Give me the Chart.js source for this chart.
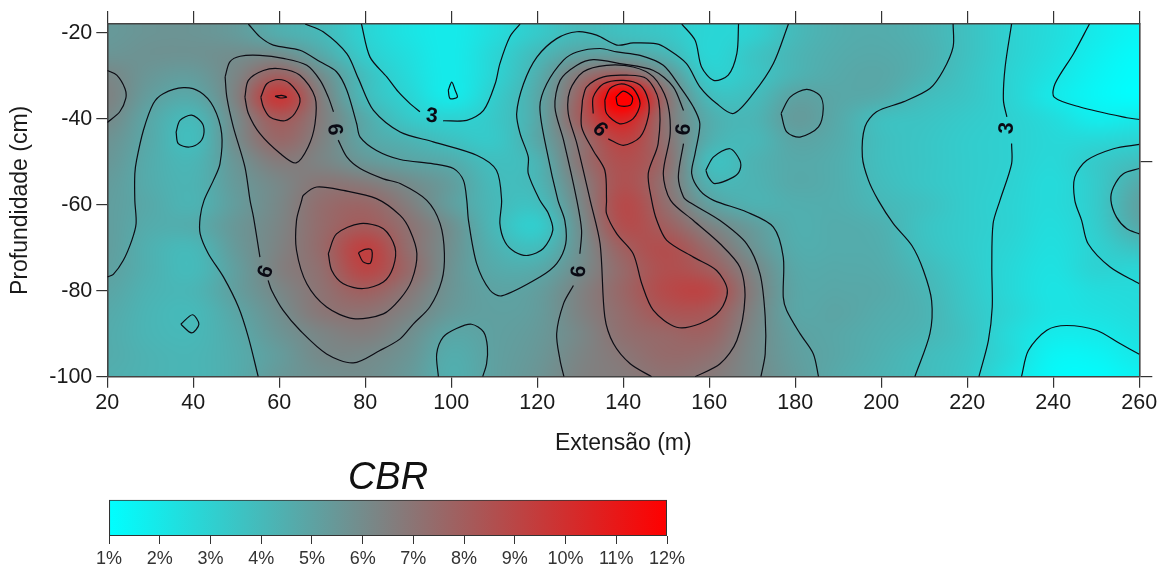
<!DOCTYPE html>
<html><head><meta charset="utf-8">
<style>html,body{margin:0;padding:0;background:#fff;overflow:hidden}
#wrap{position:relative;width:1166px;height:570px}
#wrap div{position:absolute;left:0;width:1166px}
#a{top:0;height:458px}#b{top:458px;height:112px}</style>
<script src="https://cdn.jsdelivr.net/npm/chart.js@4/dist/chart.umd.js"></script>
</head><body><div id="wrap"><div id="a"><canvas id="main"></canvas></div><div id="b"><canvas id="bar"></canvas></div></div>
<script>
const extensaoTicks=[20,40,60,80,100,120,140,160,180,200,220,240,260];
const profundidadeTicks=[-20,-40,-60,-80,-100];
const rightTicks=[-50,-100];
const legendTicks=[1,2,3,4,5,6,7,8,9,10,11,12];
const gridX=[20,30,40,50,60,70,80,90,100,110,120,130,140,150,160,170,180,190,200,210,220,230,240,250,260];
const gridY=[-20,-25,-30,-35,-40,-45,-50,-55,-60,-65,-70,-75,-80,-85,-90,-95,-100];
const cbr20=[5.4,5.6,5.6,5.3,4.5,4.0,2.9,2.2,1.9,2.5,3.3,4.0,3.7,3.4,2.8,3.0,4.0,4.5,4.6,4.3,3.7,3.0,2.5,1.9,1.4];
const cbr25=[5.6,5.7,5.7,5.9,5.9,4.7,3.2,2.4,1.9,2.8,4.0,5.0,5.0,4.2,2.8,3.5,4.2,4.6,4.7,4.4,3.7,3.0,2.4,1.7,1.2];
const cbr30=[6.2,5.5,5.3,6.3,7.8,5.9,3.8,2.6,1.9,2.9,4.5,6.9,8.0,5.8,3.2,3.5,4.3,4.7,4.8,4.3,3.6,2.9,2.2,1.5,1.1];
const cbr35=[6.4,5.2,4.8,6.5,9.6,6.5,4.0,2.9,1.95,3.2,4.8,7.9,12.6,7.2,4.0,3.9,5.0,4.8,4.6,3.9,3.5,2.9,2.0,1.4,1.1];
const cbr40=[6.1,4.8,4.1,6.1,8.1,6.6,4.7,3.4,2.95,3.4,4.8,8.0,10.6,7.0,4.6,4.2,5.3,4.7,3.8,3.6,3.3,3.0,2.5,1.8,2.0];
const cbr45=[5.7,4.7,3.9,6.0,7.5,6.4,4.9,4.3,3.7,3.4,4.8,7.1,9.2,7.1,4.5,4.1,4.9,4.6,3.8,3.5,3.2,3.0,2.7,2.7,2.9];
const cbr50=[5.5,4.6,4.2,5.6,6.7,6.3,5.5,5.0,4.6,3.8,4.3,7.0,8.6,7.3,3.9,4.3,4.7,4.5,3.8,3.5,3.2,3.0,2.7,3.3,3.8];
const cbr55=[5.3,4.6,4.3,5.4,6.2,6.9,6.7,6.0,5.2,4.0,4.2,6.5,8.5,7.0,4.4,4.3,4.7,4.5,3.9,3.5,3.2,2.95,2.6,3.3,4.6];
const cbr60=[5.2,4.7,4.3,5.3,6.2,7.3,7.6,6.6,5.2,4.1,3.8,6.2,8.8,7.3,5.2,4.4,4.5,4.5,4.1,3.7,3.2,2.9,2.6,3.3,5.0];
const cbr65=[5.2,4.6,4.6,5.5,6.3,7.4,8.1,7.1,5.8,4.1,3.2,5.9,8.6,7.9,6.4,5.3,4.5,4.6,4.4,3.6,3.2,2.9,2.5,3.2,4.7];
const cbr70=[5.2,4.4,4.1,5.4,6.4,7.5,9.2,7.3,5.8,4.4,3.9,5.8,7.9,8.6,7.3,5.7,4.6,4.6,4.5,3.7,3.2,2.8,2.4,3.0,3.7];
const cbr75=[5.1,4.4,4.0,5.2,6.5,7.3,9.0,7.5,5.7,4.7,4.7,6.0,7.5,8.6,8.0,6.3,4.8,4.7,4.6,4.0,3.3,2.7,2.3,2.9,2.8];
const cbr80=[4.9,4.3,4.2,5.2,6.2,7.1,7.9,6.9,5.6,5.0,5.2,6.4,7.6,8.8,8.9,6.6,4.9,4.8,4.7,4.2,3.4,2.7,2.2,2.5,2.6];
const cbr85=[4.7,4.2,4.05,4.9,5.9,6.9,7.1,6.4,5.4,5.1,5.3,6.4,7.4,8.3,8.2,6.4,4.9,4.9,4.6,4.3,3.5,2.8,2.2,2.3,2.5];
const cbr90=[4.6,4.2,4.1,4.7,5.6,6.3,6.6,5.9,4.9,5.1,5.4,6.2,7.2,7.6,7.7,6.2,5.1,4.8,4.5,4.2,3.6,2.6,1.9,1.95,2.3];
const cbr95=[4.6,4.3,4.2,4.6,5.3,6.1,6.1,5.6,4.6,5.1,5.5,6.3,6.9,7.4,7.2,6.1,5.2,4.8,4.4,3.95,3.5,2.6,1.5,1.5,2.0];
const cbr100=[4.5,4.3,4.2,4.6,5.4,5.8,5.9,5.4,4.5,5.1,5.6,6.4,6.7,7.1,6.8,6.1,5.3,4.7,4.3,3.9,3.4,2.3,1.3,1.2,1.6];
const cbrRows=[cbr20,cbr25,cbr30,cbr35,cbr40,cbr45,cbr50,cbr55,cbr60,cbr65,cbr70,cbr75,cbr80,cbr85,cbr90,cbr95,cbr100];

const scaleValues=[1,6.5,12];
const scaleColors=[[0,255,255],[128,128,128],[255,0,0]];

const leftLobe6=[[20,-28.8],[22.2,-29.9],[24.1,-33],[24.3,-35.3],[22.9,-38.4],[20,-40.9]];
const valley5=[[20,-76.8],[21.4,-76.2],[23.7,-73],[25.7,-68.3],[26.7,-64.4],[26.4,-59],[26.4,-52.8],[26.8,-49.7],[28.4,-42.7],[30.7,-36.5],[33,-34.2],[37.7,-32.8],[41.6,-33.8],[44.7,-37.3],[46.6,-43.5],[46.2,-50.5],[44.7,-54.3],[42.5,-59],[41.6,-62.9],[41.6,-66.8],[43.5,-71.4],[47,-76.8],[50.5,-83.8],[52.8,-90.8],[55.1,-100]];
const valley4a=[[36,-43.1],[36.9,-40.4],[39.6,-39.2],[41.9,-40.8],[42.5,-43.1],[41.6,-45.4],[39.1,-46.6],[36.5,-45.8],[36,-43.1]];
const valley4b=[[37.1,-87.8],[39.8,-85.6],[41.3,-87.8],[39.6,-89.8],[37.1,-87.8]];
const line3a=[[79.1,-18],[81.1,-25.7],[85,-30.3],[87.7,-33.8],[90.4,-36.5],[92.7,-38.4],null,[98.1,-40.5],[103.6,-40.4],[107.5,-38.1],[110.2,-31.9],[111.3,-27.2],[113.6,-21],[116,-18]];
const line4a=[[66,-18],[70.2,-19.8],[75.7,-24.9],[78.4,-30.7],[81.9,-38.1],[88.1,-43.1],[95.8,-45.4],[105.9,-48.5],[110.5,-52],[111.7,-59],[111.3,-64.4],[112.5,-68.7],[114.8,-71],[117.9,-71.8],[121.4,-70.2],[123.6,-66],[122.6,-62.1],[120.6,-59],[117.9,-52.8],[117.9,-48.9],[116,-43.5],[115.2,-38.8],[116.8,-31.9],[119.9,-25.7],[124.5,-21.4],[129.2,-19.8],[133.8,-20.6],[138.5,-22.9],[142.3,-22.4],[147.8,-22.6],[150.1,-23.7],[154.7,-27.2],[157.8,-32.6],[161.7,-36.5],[165.6,-38.8],[170.2,-34.2],[174.9,-27.2],[178.4,-18]];
const line5a=[[52.8,-18],[55.5,-21],[58.6,-22.9],[64.8,-24.1],[69.5,-26.8],[73.3,-29.1],[75.7,-33.4],[78,-41.2],[78.8,-44.3],[82.6,-47.4],[88.1,-49.5],[95.8,-50.5],[100.5,-51.6],[102.8,-54.3],[103.6,-59],[104,-63.7],[105.9,-73.7],[109,-79.9],[111.7,-81.2],[120.6,-76.8],[124.5,-73.7],[126.6,-69.1],[126.4,-63.7],[124.8,-59],[122.2,-47.4],[120.6,-37.3],[122.2,-31.9],[126.1,-26.4],[129.2,-24.5],[134.6,-23.7],[138.5,-24.5],[143.9,-25.3],[149.3,-27.6],[153.2,-32.6],[156.3,-37.3],[157.8,-41.2],[156.7,-48.1],[155.9,-52.8],[157.8,-56.7],[161,-59],[168.7,-61.7],[174.9,-65.2],[177.2,-72.2],[177.2,-81.5],[178,-84.6],[181.1,-90],[184.2,-94.7],[185.4,-100]];
const line6b=[[126.2,-100],[125.3,-96.2],[124.5,-90],[126.1,-83],[128.4,-78.8],null,[129.9,-71.4],[130.3,-66],[129.2,-59],[126.1,-45],[124.1,-37.3],[125.3,-31.1],[129.2,-27.6],[133,-26.3],[139.2,-27.2],[147,-28.8],[151.6,-32.6],[154,-38.1],null,[154,-45.8],[152.8,-53.6],[154,-58.2],[155.5,-59.5],[162.5,-63.7],[168.7,-69.1],[171.8,-76.1],[173,-86.1],[173,-94.7],[172,-100]];
const line6a=[[47.4,-30.3],[48.5,-26.8],[50.9,-25.5],[55.5,-25.3],[60.9,-26],[66.4,-27.6],[69.5,-31.1],[71.4,-35],[72.6,-38.4],null,[73.7,-45],[75.7,-48.9],[78.8,-51.6],[84.2,-54],[88.1,-55.1],[94.3,-59],[97.4,-64.4],[98.4,-71.4],[97.8,-77.6],[95,-83.8],[91.2,-87.7],[88.1,-91.2],[83.4,-93.9],[77.2,-96.8],[71,-94.7],[64.8,-89.2],[60.9,-84.6],[58.2,-79.9],[57.4,-77.6],null,[55.5,-72.2],[54,-62.9],[53.2,-59],[52,-51.2],[49.3,-41.9],[47.8,-35],[47.4,-30.3]];
const peak60l7=[[52,-35],[52.8,-31.1],[56.3,-28.8],[60.2,-28.4],[64.8,-29.9],[68.3,-35],[68.3,-41.2],[66.7,-46.6],[63.9,-50.3],[60.2,-48.1],[55.5,-43.5],[52.8,-38.8],[52,-35]];
const peak60l8=[[55.7,-35],[57.1,-31.9],[59.8,-30.9],[62.5,-31.9],[64.8,-35.3],[63.6,-38.8],[61.3,-40.5],[57.8,-39.6],[56.3,-37.3],[55.7,-35]];
const peak60l9=[[59,-34.8],[60.5,-34.6],[61.7,-35],[60.2,-35.2],[59,-34.8]];
const peak80l7=[[65.2,-59],[64,-63.7],[64,-70.6],[66.4,-78.4],[71,-83.8],[77.2,-86.5],[84.2,-85.4],[88.1,-81.9],[90.8,-77.6],[92,-71.4],[90.4,-66],[88.1,-62.5],[82.6,-58.6],[74.9,-56.7],[68.7,-55.9],[65.6,-57.8],[65.2,-59]];
const peak80l8=[[71.4,-71.4],[73.3,-66.8],[78.8,-64.4],[84.2,-65.6],[86.9,-69.9],[86.5,-74.5],[84.2,-78],[79.5,-79.5],[74.9,-78.4],[72.2,-75.3],[71.4,-71.4]];
const peak80l9=[[78.4,-71.2],[79.9,-70.4],[81.5,-70.6],[81.2,-73.6],[79.5,-73.3],[78.4,-71.2]];
const blobL7=[[146.6,-100],[141.6,-97],[137.7,-92.3],[135.7,-86.1],[134.6,-69.1],[132.3,-59],[129.2,-45.8],[127.2,-38.8],[127.6,-33.4],[130.7,-29.1],[136.1,-27.6],[142.3,-28],[147,-30.3],[150.1,-35.7],[150.9,-43.5],[149.3,-52.8],[151,-59],[156.3,-63.7],[162.5,-69.1],[167.1,-74.5],[168.3,-81.5],[166.4,-91.6],[162.5,-97],[156.7,-100]];
const blobL8=[[130.5,-35.7],[130.3,-41.9],[133,-47.4],[135.7,-52],[136.1,-59],[136.1,-62.1],[138.5,-66.8],[142.3,-71.4],[144.3,-78.4],[147,-84.6],[152.4,-88.5],[157.8,-87.7],[162.5,-84.6],[164.2,-79.9],[161.7,-75.3],[156.3,-72.2],[150.1,-68.3],[147.8,-63.7],[146.6,-59],[145.8,-52.8],[148.1,-45.8],[148.2,-35.7],[145.4,-30.7],[140.8,-29.9],[135.4,-30.3],[131.5,-32.6],[130.5,-35.7]];
const blobL9=[[136.5,-44.7],[140,-46.2],[143.9,-44.3],[145.8,-39.6],[145.8,-35.7],[143.9,-32.2],[140,-31.1],[135.4,-31.9],[133,-35],[133,-38.8]];
const blobL10=[[135.7,-35.7],[136.1,-38.8],[139.2,-41.2],[142.3,-40],[143.9,-36.5],[142.3,-33],[139.6,-31.9],[136.9,-33],[135.7,-35.7]];
const blobL11=[[138.3,-35],[138.8,-36.9],[141.6,-36.9],[142.1,-35],[140,-33.6],[138.3,-35]];
const topLoop3=[[153.6,-18],[156.7,-21.8],[158.2,-28],[161,-31.1],[164.4,-29.9],[166.4,-24.9],[166.8,-18]];
const loop4c=[[159.2,-52],[161,-48.9],[164.8,-47],[167.1,-49.7],[167.1,-52],[165.6,-53.6],[161.3,-55.1],[159.8,-53.6],[159.2,-52]];
const loop2a=[[99.3,-33.4],[100.1,-31.5],[100.9,-33.4],[101.4,-35],[99.7,-35.3],[99.3,-33.4]];
const bottomLoop5=[[97,-100],[96.6,-94.7],[98.1,-90.8],[101.2,-88.8],[104.7,-87.8],[107.5,-89.6],[108.4,-93.1],[108.2,-97],[107.3,-100]];
const loop5b=[[176.7,-38.8],[178.8,-35],[182.6,-33.2],[185.7,-34.6],[186.5,-37.7],[185.4,-41.9],[181.1,-44.3],[178,-43.1],[176.7,-38.8]];
const line4b=[[216.7,-18],[216.7,-23.3],[214.4,-28.8],[211.3,-33],[205.1,-36.1],[198.9,-38.4],[196.2,-41.9],[195.6,-48.9],[197,-54.3],[199.3,-59],[202.8,-64.4],[207.1,-69.5],[209.8,-75.3],[211.7,-82.3],[211.3,-90],[207.8,-100]];
const line3b=[[230.3,-18],[228.8,-28],[228.4,-35.7],[229.2,-39.6],null,[230.3,-45.8],[230.3,-50.5],[227.6,-59],[226,-64.4],[225.7,-74.5],[225.8,-83.8],[224.9,-91.6],[222.7,-100]];
const line2a=[[248.4,-18],[244.7,-24.9],[240.4,-31.9],[240.2,-35],[246.2,-37.3],[257.1,-39.8],[260,-40.2]];
const line2b=[[232.6,-100],[234.2,-93.9],[238.5,-89.2],[243.1,-88.1],[250,-89.2],[255.5,-92.3],[260,-94.8]];
const lobe3=[[260,-46],[254,-47],[247.8,-49.7],[245,-53.6],[245,-59],[246.6,-63.7],[248.1,-69.1],[253.2,-74.5],[260,-78.4]];
const lobe4=[[260,-51.6],[256.3,-52.8],[254,-55.9],[253.4,-59],[254.7,-62.9],[257.1,-65.6],[260,-66.8]];
const contours=[leftLobe6,valley5,valley4a,valley4b,line3a,line4a,line5a,line6b,line6a,peak60l7,peak60l8,peak60l9,peak80l7,peak80l8,peak80l9,blobL7,blobL8,blobL9,blobL10,blobL11,topLoop3,loop4c,loop2a,bottomLoop5,loop5b,line4b,line3b,line2a,line2b,lobe3,lobe4];

const labelText=['6','3','9','6','3','6','6'];
const labelX=[73,95.5,134.8,153.9,229,56.7,129.5];
const labelY=[-42.5,-39.2,-42.3,-42.5,-42.2,-75.5,-75.5];
const labelAngle=[85,5,-135,-85,-85,-70,-85];

const FONT='"Liberation Sans",Arial,sans-serif';
const INK='#1a1a1a';
Chart.defaults.font.family=FONT;

function colorFor(v){
  v=Math.max(scaleValues[0],Math.min(scaleValues[2],v));
  const i=v<scaleValues[1]?0:1;
  const t=(v-scaleValues[i])/(scaleValues[i+1]-scaleValues[i]);
  return scaleColors[i].map((c,k)=>c+(scaleColors[i+1][k]-c)*t);
}
function catmull(a,b,c,d,t){
  return 0.5*(2*b+(c-a)*t+(2*a-5*b+4*c-d)*t*t+(3*b-a-3*c+d)*t*t*t);
}
function locate(arr,v){
  const step=arr[1]-arr[0];
  let f=(v-arr[0])/step; f=Math.max(0,Math.min(arr.length-1.0001,f));
  return [Math.floor(f),f-Math.floor(f)];
}
function sampleField(x,y){
  const [i,tx]=locate(gridX,x),[j,ty]=locate(gridY,y);
  const R=r=>Math.max(0,Math.min(gridY.length-1,r)),C=c=>Math.max(0,Math.min(gridX.length-1,c));
  const col=[];
  for(let r=j-1;r<=j+2;r++){
    const row=cbrRows[R(r)];
    col.push(catmull(row[C(i-1)],row[C(i)],row[C(i+1)],row[C(i+2)],tx));
  }
  return catmull(col[0],col[1],col[2],col[3],ty);
}
const fieldPlugin={id:'field',beforeDraw(chart){
  const a=chart.chartArea,xs=chart.scales.x,ys=chart.scales.y,M=12;
  const L=Math.round(a.left),T=Math.round(a.top),W=Math.round(a.right)-L,H=Math.round(a.bottom)-T;
  const FW=W+2*M,FH=H+2*M;
  const off=document.createElement('canvas');off.width=FW;off.height=FH;
  const c=off.getContext('2d'),img=c.createImageData(FW,FH);
  for(let py=0;py<FH;py++){
    const vy=ys.getValueForPixel(T-M+py+.5);
    for(let px=0;px<FW;px++){
      const col=colorFor(sampleField(xs.getValueForPixel(L-M+px+.5),vy)),k=(py*FW+px)*4;
      img.data[k]=col[0];img.data[k+1]=col[1];img.data[k+2]=col[2];img.data[k+3]=255;
    }
  }
  c.putImageData(img,0,0);
  const ctx=chart.ctx;ctx.save();
  ctx.beginPath();ctx.rect(L,T,W,H);ctx.clip();
  ctx.filter='blur(2.5px)';ctx.drawImage(off,L-M,T-M);ctx.restore();
}};
const labelPlugin={id:'contourLabels',afterDatasetsDraw(chart){
  const ctx=chart.ctx,xs=chart.scales.x,ys=chart.scales.y;
  ctx.save();ctx.fillStyle='#0a0a14';ctx.font='bold 21px '+FONT;ctx.textAlign='center';ctx.textBaseline='middle';
  labelText.forEach((t,i)=>{
    ctx.save();ctx.translate(xs.getPixelForValue(labelX[i]),ys.getPixelForValue(labelY[i]));
    ctx.rotate(labelAngle[i]*Math.PI/180);ctx.fillText(t,0,1);ctx.restore();
  });
  ctx.restore();
}};
const setTicks=list=>s=>{s.ticks=list.map(v=>({value:v}));};
const fixH=h=>s=>{s.height=h;};
const fixW=w=>s=>{s.width=w;};
const axisGrid=len=>({display:true,drawOnChartArea:false,drawTicks:true,tickLength:len,color:'#333',lineWidth:1.2});
const axisBorder={display:true,color:'#444',width:1.6};

new Chart(document.getElementById('main'),{
  type:'scatter',
  data:{datasets:contours.map((pts,i)=>({
    label:'contorno '+i,showLine:true,tension:.3,pointRadius:0,borderColor:'#0c0c14',borderWidth:1.2,spanGaps:false,fill:false,
    data:pts.map(p=>p?{x:p[0],y:p[1]}:{x:null,y:null})
  }))},
  plugins:[fieldPlugin,labelPlugin],
  options:{
    responsive:true,maintainAspectRatio:false,animation:false,events:[],
    layout:{padding:0},
    plugins:{legend:{display:false},tooltip:{enabled:false},title:{display:false}},
    scales:{
      x:{type:'linear',position:'bottom',min:20,max:260,afterBuildTicks:setTicks(extensaoTicks),afterFit:fixH(81.3),
        grid:axisGrid(11),border:axisBorder,
        ticks:{autoSkip:false,maxRotation:0,padding:2,color:INK,font:{size:21.5},callback:v=>String(v)},
        title:{display:true,text:'Extensão (m)',color:INK,font:{size:23,lineHeight:1.1},padding:{top:0,bottom:2}}},
      x2:{type:'linear',position:'top',min:20,max:260,afterBuildTicks:setTicks(extensaoTicks),afterFit:fixH(24),
        grid:axisGrid(13),border:axisBorder,ticks:{display:false}},
      y:{type:'linear',position:'left',min:-100,max:-18,afterBuildTicks:setTicks(profundidadeTicks),afterFit:fixW(107.3),
        grid:axisGrid(11),border:axisBorder,
        ticks:{autoSkip:false,padding:4,color:INK,font:{size:21.5},callback:v=>String(v)},
        title:{display:true,text:'Profundidade (cm)',color:INK,font:{size:23,lineHeight:1.1},padding:{top:8,bottom:0}}},
      y2:{type:'linear',position:'right',min:-100,max:-18,afterBuildTicks:setTicks(rightTicks),afterFit:fixW(26.7),
        grid:axisGrid(13),border:axisBorder,ticks:{display:false}}
    }
  }
});

new Chart(document.getElementById('bar'),{
  type:'bar',
  data:{labels:['CBR'],datasets:[{label:'CBR',data:[[legendTicks[0],legendTicks[legendTicks.length-1]]],
    barPercentage:1,categoryPercentage:1,borderColor:'#333',borderWidth:1.4,borderSkipped:false,
    backgroundColor(ctx){
      const ch=ctx.chart;if(!ch.chartArea)return '#888';
      const xs=ch.scales.x,g=ch.ctx.createLinearGradient(xs.getPixelForValue(1),0,xs.getPixelForValue(12),0);
      scaleValues.forEach((v,i)=>g.addColorStop((v-1)/11,'rgb('+scaleColors[i].join(',')+')'));
      return g;
    }}]},
  options:{
    indexAxis:'y',responsive:true,maintainAspectRatio:false,animation:false,events:[],
    layout:{padding:{left:109,right:499,top:0,bottom:0}},
    plugins:{legend:{display:false},tooltip:{enabled:false},
      title:{display:true,text:'CBR',color:'#111',align:'center',font:{size:38,style:'italic',weight:'normal',lineHeight:1.1},padding:{top:0,bottom:0}}},
    scales:{
      x:{type:'linear',min:1,max:12,afterBuildTicks:setTicks(legendTicks),afterFit:fixH(34),
        grid:{display:true,drawOnChartArea:false,drawTicks:true,tickLength:8,color:'#333'},border:{display:false},
        ticks:{autoSkip:false,maxRotation:0,padding:4,color:'#333',font:{size:18},callback:v=>v+'%'}},
      y:{display:false}
    }
  }
});
</script></body></html>
